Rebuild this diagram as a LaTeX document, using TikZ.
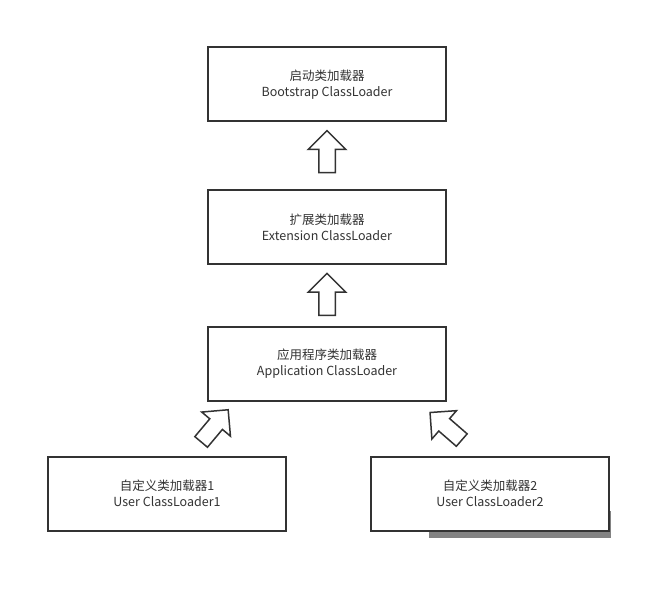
\documentclass[tikz,border=0pt]{standalone}
\usepackage{fontspec}
\setmainfont{Noto Sans CJK SC}
\usetikzlibrary{calc,shapes.arrows}
\definecolor{loaderink}{HTML}{333333}
\definecolor{loadershade}{HTML}{828282}
\tikzset{
  loaderbox/.style={draw=loaderink, fill=white, line width=2pt,
    minimum width=238pt, minimum height=74pt, align=center,
    font=\fontsize{12.5}{16}\selectfont, text=loaderink, inner sep=0pt},
  blockarrow/.style={single arrow, draw=loaderink, fill=white,
    line width=1.5pt, minimum width=36pt, minimum height=42pt,
    single arrow head extend=10.5pt, inner xsep=0pt, inner ysep=7.5pt}
}

\begin{document}
\begin{tikzpicture}[x=1pt,y=-1pt]
  \useasboundingbox (0,0) rectangle (671,593);

  % bootstrap -> extension -> application
  \node[loaderbox] (boot) at (327,84.5)
    {启动类加载器\\Bootstrap ClassLoader};
  \node[loaderbox] (ext) at (327,227)
    {扩展类加载器\\Extension ClassLoader};
  \node[loaderbox] (app) at (327,364)
    {应用程序类加载器\\Application ClassLoader};

  % user loaders
  \node[loaderbox] (user1) at (167,493.5)
    {自定义类加载器1\\User ClassLoader1};
  \fill[loadershade] (429,511) rectangle (611,538);
  \node[loaderbox] (user2) at (490,493.5)
    {自定义类加载器2\\User ClassLoader2};

  % delegation arrows
  \node[blockarrow, rotate=90] (upboot)
    at ($(ext.north)!0.5!(boot.south)$) {};
  \node[blockarrow, rotate=90] (upext)
    at ($(app.north)!0.45!(ext.south)$) {};
  \node[blockarrow, rotate=50] (upappl) at (212,429) {};
  \node[blockarrow, rotate=139] (upappr) at (449,429) {};
\end{tikzpicture}
\end{document}
